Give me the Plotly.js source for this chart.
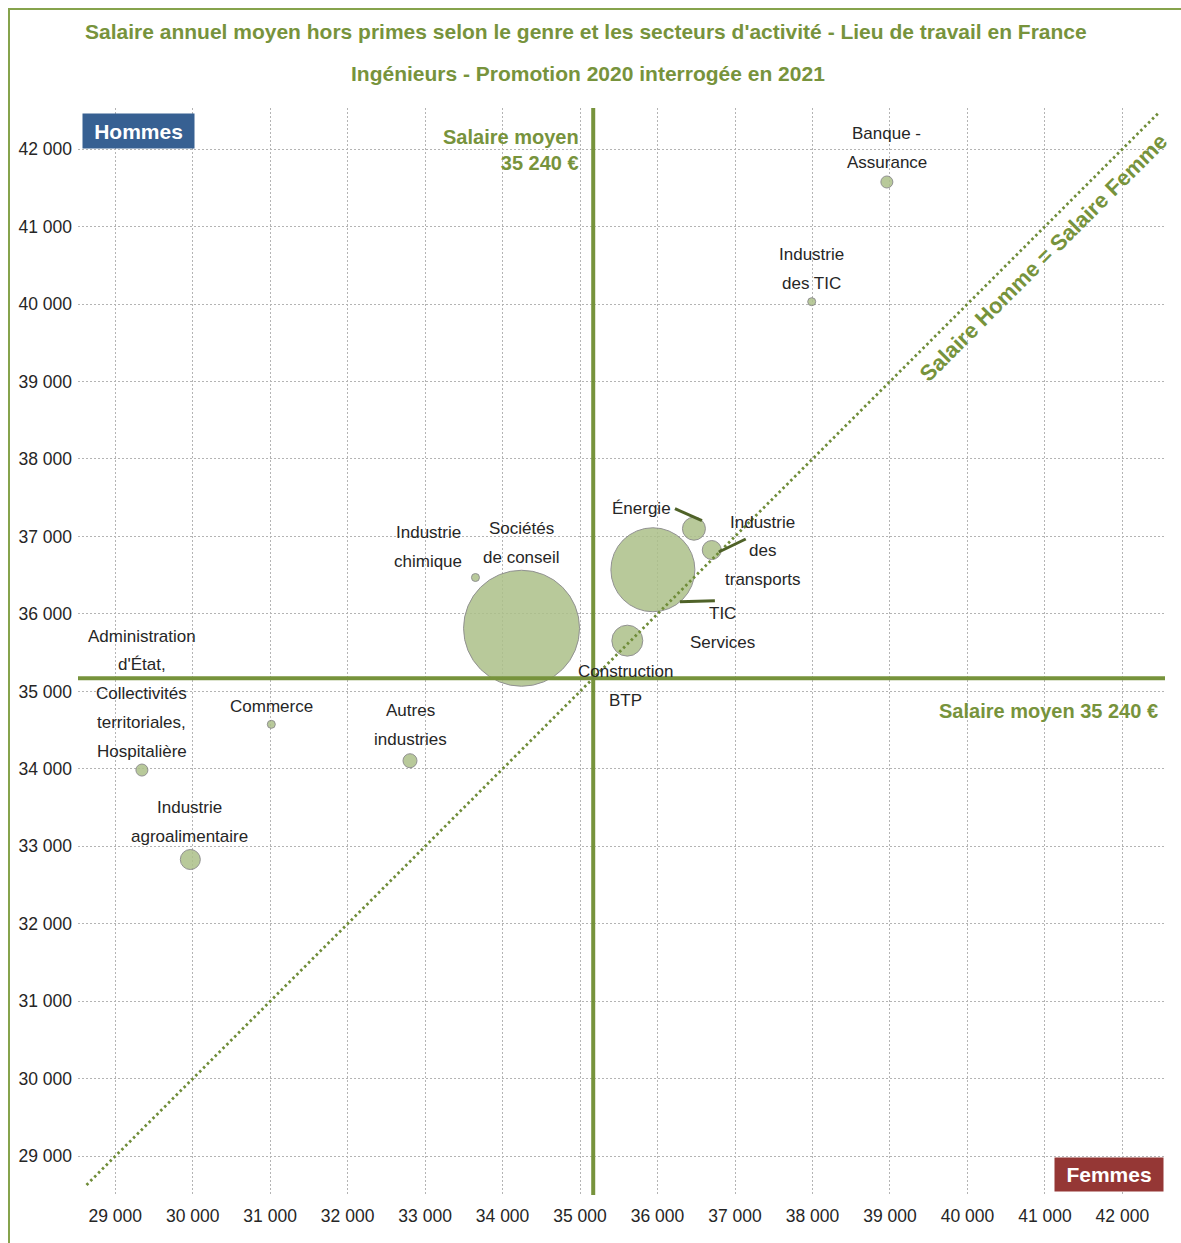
<!DOCTYPE html>
<html><head><meta charset="utf-8">
<script src="https://cdn.plot.ly/plotly-3.0.1.min.js"></script>
<style>html,body{margin:0;padding:0;background:#fff;} #chart{width:1181px;height:1243px;}</style>
</head><body><div id="chart"></div>
<script>
// ---- Data ----
const secteurs = ["Banque - Assurance","Industrie des TIC","Énergie","Industrie des transports","TIC Services","Construction BTP","Sociétés de conseil","Industrie chimique","Administration d'État, Collectivités territoriales, Hospitalière","Commerce","Autres industries","Industrie agroalimentaire"];
const salaireFemmes = [38960, 37990, 36470, 36700, 35940, 35610, 34245, 33650, 29345, 31015, 32805, 29970];
const salaireHommes = [41575, 40030, 37100, 36825, 36570, 35655, 35815, 36470, 33985, 34575, 34105, 32830];
const effectifs = [36, 16, 132, 90, 1764, 240, 3364, 16, 36, 16, 49, 100];
const etiquettes = [["Banque -","Assurance"],["Industrie","des TIC"],["Énergie"],["Industrie","des","transports"],["TIC","Services"],["Construction","BTP"],["Sociétés","de conseil"],["Industrie","chimique"],["Administration","d'État,","Collectivités","territoriales,","Hospitalière"],["Commerce"],["Autres","industries"],["Industrie","agroalimentaire"]];
const graduations = [29000,30000,31000,32000,33000,34000,35000,36000,37000,38000,39000,40000,41000,42000];
const salaireMoyenTexte = "35 240 €";
const ligneMoyenne = 35170;
const diagonale = [28630, 42470];

// ---- Layout constants ----
const W = 1181, H = 1243, ML = 78, MR = 16, MT = 108, MB = 48;
const PW = W - ML - MR, PH = H - MT - MB;
const px = v => (v - ML) / PW;           // pixel x -> paper
const py = v => (H - MB - v) / PH;       // pixel y -> paper
const vert = '#77933C', olive = '#4F6228', txt = '#262626';
const FONT = 'Liberation Sans, Arial, sans-serif';

// label offsets (dx px, first line dy px from bubble centre, downward)
const decalages = [[0,-48],[0,-47],[-52,-20],[51,-28],[70,44],[-2,31],[0,-100],[-47,-45],[0,-134],[0,-18],[1,-50],[-1,-52]];
const interligne = 28.8;

const annotations = [];
secteurs.forEach((s, i) => {
  etiquettes[i].forEach((l, j) => {
    annotations.push({x: salaireFemmes[i], y: salaireHommes[i], xref:'x', yref:'y', text: l, showarrow:false,
      xshift: decalages[i][0], yshift: -(decalages[i][1] + j*interligne),
      font:{family: FONT, size:17, color: txt}});
  });
});
// titles
annotations.push({xref:'paper', yref:'paper', x: px(586), y: py(32), xanchor:'center', yanchor:'middle', showarrow:false,
  text:"Salaire annuel moyen hors primes selon le genre et les secteurs d'activité - Lieu de travail en France",
  font:{family: FONT, size:21, color: vert, weight:'bold'}});
annotations.push({xref:'paper', yref:'paper', x: px(588), y: py(73), xanchor:'center', yanchor:'middle', showarrow:false,
  text:"Ingénieurs - Promotion 2020 interrogée en 2021",
  font:{family: FONT, size:21, color: vert, weight:'bold'}});
// Hommes / Femmes boxes
annotations.push({xref:'paper', yref:'paper', x: px(82), y: py(113), xanchor:'left', yanchor:'top', showarrow:false,
  text:'<b>Hommes</b>', width:111, height:34, borderpad:0, bgcolor:'#376092', font:{family: FONT, size:21, color:'#ffffff'}});
annotations.push({xref:'paper', yref:'paper', x: px(1164), y: py(1192), xanchor:'right', yanchor:'bottom', showarrow:false,
  text:'<b>Femmes</b>', width:108, height:33, borderpad:0, bgcolor:'#953735', font:{family: FONT, size:21, color:'#ffffff'}});
// mean labels
annotations.push({xref:'x', yref:'paper', x: ligneMoyenne, y: py(150.5), xanchor:'right', yanchor:'middle', xshift:-12, showarrow:false, align:'right',
  text:'<b>Salaire moyen<br>' + salaireMoyenTexte + '</b>', font:{family: FONT, size:20, color: vert}});
annotations.push({xref:'paper', yref:'y', x: px(1160), y: ligneMoyenne, xanchor:'right', yanchor:'middle', yshift:-33, showarrow:false,
  text:'<b>Salaire moyen ' + salaireMoyenTexte + '</b>', font:{family: FONT, size:20, color: vert}});
// diagonal label
annotations.push({xref:'x', yref:'y', x: 40790, y: 40790, xshift:15, yshift:-15, textangle:-45, showarrow:false,
  text:'<b>Salaire Homme = Salaire Femme</b>', font:{family: FONT, size:22, color: vert}});

const shapes = [
  {type:'rect', xref:'paper', yref:'paper', x0: px(9), x1: px(1200), y0: py(1260), y1: py(9), line:{color:'#86A34C', width:2}, fillcolor:'rgba(0,0,0,0)', layer:'below'},
  {type:'line', xref:'paper', yref:'y', x0:0, x1:1, y0: ligneMoyenne, y1: ligneMoyenne, line:{color: vert, width:4}, layer:'above'},
  {type:'line', xref:'x', yref:'paper', x0: ligneMoyenne, x1: ligneMoyenne, y0:0, y1:1, line:{color: vert, width:4}, layer:'above'},
  {type:'line', xref:'x', yref:'y', x0: diagonale[0], y0: diagonale[0], x1: diagonale[1], y1: diagonale[1], line:{color: '#6F8C38', width:2.8, dash:'2.5px,3px'}, layer:'above'}
];
// leader lines: [sector index, x0, y0, x1, y1] px offsets from bubble centre (y upward)
const renvois = [[2,-19,20,8,8],[3,34,11,7,-2],[4,27,-32,62,-31]];
renvois.forEach(r => {
  const i = r[0];
  shapes.push({type:'line', xref:'x', yref:'y', xsizemode:'pixel', ysizemode:'pixel', xanchor: salaireFemmes[i], yanchor: salaireHommes[i],
    x0:r[1], y0:r[2], x1:r[3], y1:r[4], line:{color: olive, width:3}, layer:'above'});
});

const trace = {
  type:'scatter', mode:'markers', x: salaireFemmes, y: salaireHommes, text: secteurs,
  marker:{size: effectifs, sizemode:'area', sizeref:0.5, color:'rgb(172,192,137)', opacity:0.85, line:{color:'#7F7F7F', width:1}},
  hoverinfo:'skip', showlegend:false
};

const axis = {
  tickvals: graduations, tickformat:',d', showgrid:true, gridcolor:'#B4B4B4', griddash:'2px,2px', gridwidth:1,
  zeroline:false, showline:false, ticks:'', tickfont:{family: FONT, size:17.5, color: txt}, fixedrange:true
};

const layout = {
  width:W, height:H, margin:{l:ML, r:MR, t:MT, b:MB}, paper_bgcolor:'#ffffff', plot_bgcolor:'#ffffff',
  separators:', ', showlegend:false, hovermode:false,
  xaxis: Object.assign({}, axis, {range:[28520, 42550], ticklabelstandoff:8}),
  yaxis: Object.assign({}, axis, {range:[28500, 42530], ticklabelstandoff:5}),
  annotations: annotations, shapes: shapes
};

Plotly.newPlot('chart', [trace], layout, {displayModeBar:false, staticPlot:true});
</script></body></html>
